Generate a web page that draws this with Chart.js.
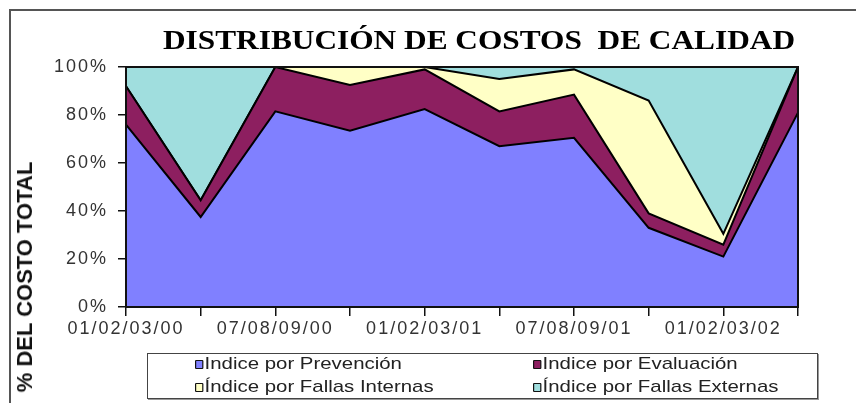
<!DOCTYPE html>
<html lang="es">
<head>
<meta charset="utf-8">
<title>Distribución de costos de calidad</title>
<script src="https://cdn.jsdelivr.net/npm/chart.js@4.4.1/dist/chart.umd.min.js"></script>
<style>
  body { margin: 0; background: #fff; }
  #wrap { position: relative; width: 856px; height: 403px; overflow: hidden; }
  #grafico { position: absolute; left: 0; top: 0; }
  #marco { position: absolute; left: 9px; top: 9px; right: -5px; bottom: -5px;
           border-left: 2px solid #555; border-top: 2px solid #555; }
  #titulo { position: absolute; left: 479px; top: 27px; white-space: nowrap;
            font: bold 27px "Liberation Serif", "Times New Roman", serif; line-height: 1;
            color: #000; transform: translateX(-50%) scaleX(1.16); }
  #ejeY { position: absolute; left: 25px; top: 277px; white-space: nowrap;
          font: bold 22px "Liberation Sans", Arial, sans-serif; line-height: 1; color: #111;
          transform: translate(-50%, -50%) rotate(-90deg); }
  #leyenda { position: absolute; left: 147px; top: 353px; width: 671px; height: 46px;
             box-sizing: border-box; border: 1px solid #444; box-shadow: 1px 1px 0 #999; background: #fff; }
  .item { position: absolute; white-space: nowrap; transform: scaleX(1.2); transform-origin: 0 0;
          font: 17px "Liberation Sans", Arial, sans-serif; line-height: 1; color: #222; }
  .item i { display: inline-block; width: 5px; height: 7px; border: 1.5px solid #111; border-radius: 1px;
            margin-right: 1px; vertical-align: 0; }
</style>
</head>
<body>
<div id="wrap">
  <div id="marco"></div>
  <canvas id="grafico" width="856" height="403"></canvas>
  <div id="titulo">DISTRIBUCIÓN DE COSTOS &nbsp;DE CALIDAD</div>
  <div id="ejeY">% DEL COSTO TOTAL</div>
  <div id="leyenda"></div>
</div>
<script>
// trimestres (meses/año)
const periodos = [
  "01/02/03/00", "04/05/06/00", "07/08/09/00", "10/11/12/00", "01/02/03/01",
  "04/05/06/01", "07/08/09/01", "10/11/12/01", "01/02/03/02", "04/05/06/02"
];

// participación de cada índice en el costo total (%)
const prevencion = [76, 37.5, 81.5, 73.5, 82.5, 67, 70.5, 33, 21, 81];
const evaluacion = [16, 7, 18.5, 19, 16.5, 14.5, 18, 6, 5, 19];
const fallasInternas = [0, 0, 0, 7.5, 1, 13.5, 10.5, 47, 4.5, 0];
const fallasExternas = [8, 55.5, 0, 0, 0, 5, 1, 14, 69.5, 0];

const nombres = [
  "Indice por Prevención", "Indice por Evaluación",
  "Índice por Fallas Internas", "Índice por Fallas Externas"
];
const colores = ["#8080ff", "#8d1f60", "#ffffc6", "#a0dede"];
const series = [prevencion, evaluacion, fallasInternas, fallasExternas];

const fuente = { family: "'Liberation Sans', Arial, sans-serif", size: 18 };

// texto de ejes algo más espaciado + marco del área de trazado
const espaciado = {
  id: "espaciado",
  beforeDraw(chart) {
    chart.ctx.letterSpacing = "2px";
  },
  afterDatasetsDraw(chart) {
    const { ctx, chartArea: a } = chart;
    ctx.save();
    ctx.strokeStyle = "#111";
    ctx.lineWidth = 2;
    ctx.strokeRect(a.left, a.top, a.right - a.left, a.bottom - a.top);
    ctx.restore();
  }
};

new Chart("grafico", {
  type: "line",
  data: {
    labels: periodos,
    datasets: series.map((valores, i) => ({
      label: nombres[i],
      data: valores,
      backgroundColor: colores[i],
      borderColor: "#000",
      borderWidth: 2,
      fill: i === 0 ? "origin" : "-1",
      pointRadius: 0,
      tension: 0,
    })),
  },
  options: {
    responsive: false,
    animation: false,
    layout: { padding: { left: 0, top: 67, right: 58, bottom: 56 } },
    plugins: {
      legend: { display: false },
      tooltip: { enabled: false },
    },
    scales: {
      x: {
        offset: false,
        afterFit: (scale) => { scale.height = 40; },
        ticks: {
          autoSkip: false,
          maxRotation: 0,
          font: fuente,
          color: "#333",
          padding: 2,
          callback: function (val, i) {
            return i % 2 === 0 ? this.getLabelForValue(val) : "";
          },
        },
        grid: { drawOnChartArea: false, tickLength: 9, color: "#111", lineWidth: 1.5 },
        border: { color: "#111", width: 2 },
      },
      y: {
        stacked: true,
        min: 0,
        max: 100,
        afterFit: (scale) => { scale.width = 126; },
        ticks: {
          stepSize: 20,
          font: fuente,
          color: "#333",
          padding: 10,
          callback: (v) => v + "%",
        },
        grid: { drawOnChartArea: false, tickLength: 8, color: "#111", lineWidth: 1.5 },
        border: { color: "#111", width: 2 },
      },
    },
  },
  plugins: [espaciado],
});

// leyenda en dos columnas
const leyenda = document.getElementById("leyenda");
const posiciones = [[47, 1], [385, 1], [47, 24], [385, 24]];
nombres.forEach((nombre, i) => {
  const item = document.createElement("div");
  item.className = "item";
  item.style.left = posiciones[i][0] + "px";
  item.style.top = posiciones[i][1] + "px";
  const caja = document.createElement("i");
  caja.style.background = colores[i];
  item.appendChild(caja);
  item.appendChild(document.createTextNode(nombre));
  leyenda.appendChild(item);
});
</script>
</body>
</html>
